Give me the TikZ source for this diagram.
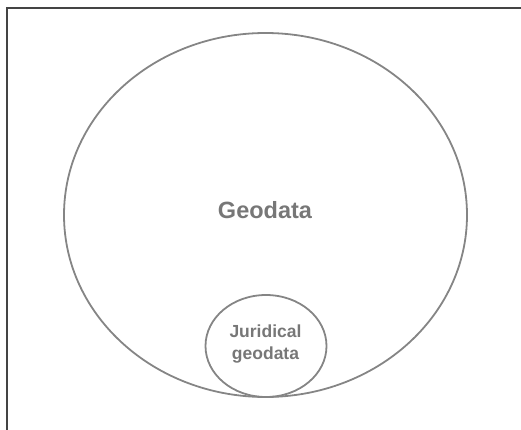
\documentclass[tikz,border=0pt]{standalone}
\usepackage{fontspec}
\setmainfont{Liberation Sans}
\usetikzlibrary{shapes.geometric}
\definecolor{ringgray}{HTML}{858585}
\definecolor{labelgray}{HTML}{777777}
\definecolor{framegray}{HTML}{444444}
\tikzset{
  ring/.style={draw=ringgray, line width=1.8pt, ellipse, inner sep=0pt},
  lbl/.style={text=labelgray, font=\bfseries, align=center}
}
\begin{document}
\begin{tikzpicture}[x=1pt,y=-1pt]
\useasboundingbox (0,0) rectangle (521,430);
% frame
\draw[framegray, line width=1.4pt] (7,430)--(7,8)--(521,8);

\node[ring, minimum width=403pt, minimum height=364pt] (geodata) at (265.5,215) {};
\node[ring, minimum width=121pt, minimum height=102pt] (juridical) at (266,346) {};

\node[lbl, font=\fontsize{23.5}{27}\selectfont\bfseries] (geolbl) at (265,210) {Geodata};
\node[lbl, font=\fontsize{17.5}{22}\selectfont\bfseries] (jurlbl) at (265.5,344) {Juridical\\geodata};
\end{tikzpicture}
\end{document}
